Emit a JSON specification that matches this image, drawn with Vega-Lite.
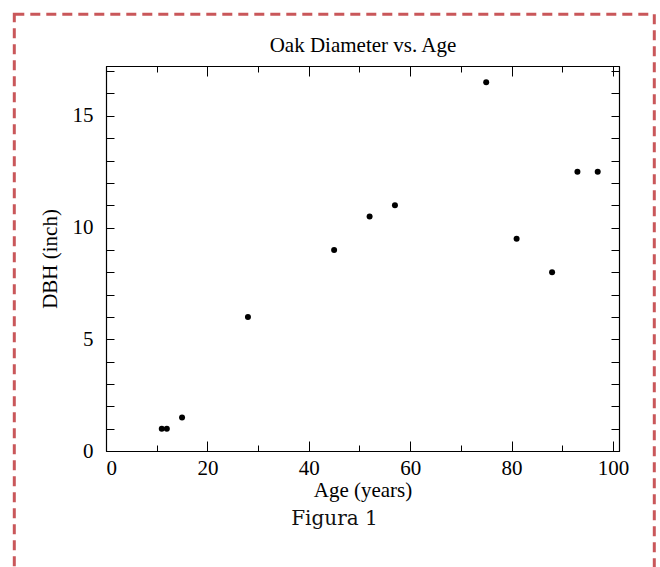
{
  "$schema": "https://vega.github.io/schema/vega-lite/v6.json",
  "width": 513,
  "height": 385,
  "padding": {"left": 12, "top": 12, "right": 4, "bottom": 4},
  "background": "white",
  "title": {"text": "Figura 1", "orient": "bottom", "font": "DejaVu Serif", "fontSize": 20, "fontWeight": "normal", "color": "#111", "offset": -63, "anchor": "middle", "dx": -28},
  "data": {"values": [
    {"age": 11, "dbh": 1},
    {"age": 12, "dbh": 1},
    {"age": 15, "dbh": 1.5},
    {"age": 28, "dbh": 6},
    {"age": 45, "dbh": 9},
    {"age": 52, "dbh": 10.5},
    {"age": 57, "dbh": 11},
    {"age": 75, "dbh": 16.5},
    {"age": 81, "dbh": 9.5},
    {"age": 88, "dbh": 8},
    {"age": 93, "dbh": 12.5},
    {"age": 97, "dbh": 12.5}
  ]},
  "config": {
    "view": {"stroke": "#000", "strokeWidth": 1},
    "axis": {
      "domainColor": "#000", "domainWidth": 1.2,
      "tickColor": "#000", "tickWidth": 1, "tickSize": -8,
      "labelFont": "Liberation Serif", "labelFontSize": 21, "labelColor": "#000",
      "titleFont": "Liberation Serif", "titleFontSize": 21, "titleFontWeight": "normal", "titleColor": "#000",
      "grid": false
    }
  },
  "layer": [
    {
      "mark": {"type": "point", "filled": true, "size": 36, "color": "#000", "opacity": 1},
      "encoding": {
        "x": {"field": "age", "type": "quantitative",
          "scale": {"domain": [0, 101.2], "nice": false, "zero": false},
          "axis": {"orient": "bottom", "values": [0,10,20,30,40,50,60,70,80,90,100],
            "labelExpr": "datum.value % 20 === 0 ? datum.label : ''",
            "tickSize": {"condition": {"test": "datum.value % 20 === 0", "value": -10}, "value": -6},
            "labelPadding": 16, "title": "Age (years)", "titlePadding": 1}},
        "y": {"field": "dbh", "type": "quantitative",
          "scale": {"domain": [0, 17.23], "nice": false, "zero": false},
          "axis": {"orient": "left", "values": [0,1,2,3,4,5,6,7,8,9,10,11,12,13,14,15,16,17],
            "labelExpr": "datum.value % 5 === 0 ? datum.label : ''",
            "labelPadding": 21, "title": "DBH (inch)", "titlePadding": 12}}
      }
    },
    {
      "mark": {"type": "point", "opacity": 0},
      "encoding": {
        "x": {"field": "age", "type": "quantitative",
          "scale": {"domain": [0, 101.2], "nice": false, "zero": false},
          "axis": {"orient": "top", "values": [0,10,20,30,40,50,60,70,80,90,100],
            "tickSize": {"condition": {"test": "datum.value % 20 === 0", "value": -10}, "value": -6},
            "labels": false, "title": "Oak Diameter vs. Age", "titlePadding": 10}},
        "y": {"field": "dbh", "type": "quantitative",
          "scale": {"domain": [0, 17.23], "nice": false, "zero": false},
          "axis": {"orient": "right", "values": [0,1,2,3,4,5,6,7,8,9,10,11,12,13,14,15,16,17],
            "labels": false, "title": null}},
        "color": {"field": "dbh", "type": "quantitative",
          "scale": {"range": ["rgba(0,0,0,0)", "rgba(0,0,0,0)"]},
          "legend": {"type": "gradient", "orient": "none", "legendX": -91.7, "legendY": -51.7,
            "direction": "vertical", "gradientLength": 556, "gradientThickness": 640,
            "values": [], "labelExpr": "''", "labelOffset": 0, "title": null, "padding": 0,
            "encode": {"legend": {"update": {
              "stroke": {"value": "#c9575a"},
              "strokeDash": {"value": [10, 6]},
              "strokeWidth": {"value": 3}}}}}}
      }
    }
  ],
  "resolve": {"axis": {"x": "independent", "y": "independent"}}
}
